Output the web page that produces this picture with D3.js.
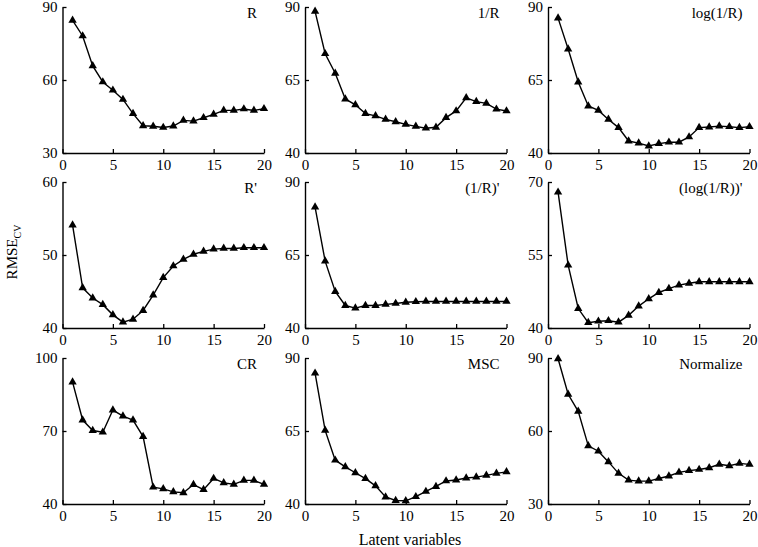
<!DOCTYPE html>
<html><head><meta charset="utf-8">
<script src="https://cdn.jsdelivr.net/npm/d3@7"></script>
<style>body{margin:0;background:#fff}text{font-family:"Liberation Serif","Times New Roman",serif;fill:#000}</style>
</head><body><svg id="c" width="758" height="547"></svg>
<script>
const latent = d3.range(1, 21);
const titles = ["R", "1/R", "log(1/R)", "R'", "(1/R)'", "(log(1/R))'", "CR", "MSC", "Normalize"];
const yDomains = [[30,90],[40,90],[40,90],[40,60],[40,90],[40,70],[40,100],[40,90],[30,90]];
const yTicks = [[30,60,90],[40,65,90],[40,65,90],[40,50,60],[40,65,90],[40,55,70],[40,70,100],[40,65,90],[30,60,90]];
const xTicks = [0,5,10,15,20];
const sR = [84.5,78.1,65.8,59.2,55.8,52.0,46.2,41.2,41.0,40.5,41.1,43.4,43.1,44.5,45.9,47.5,47.5,48.1,47.5,48.2];
const sInvR = [88.5,74.0,67.3,58.5,56.5,53.5,52.7,51.5,50.7,49.8,49.1,48.5,48.8,52.1,54.4,58.9,57.6,57.0,55.0,54.4];
const sLogInvR = [86.2,75.6,64.3,56.1,54.6,51.5,48.7,44.1,43.4,42.4,43.2,43.7,43.7,45.5,48.7,48.9,49.2,49.0,48.7,49.0];
const sRd = [54.1,45.5,44.1,43.2,41.8,40.8,41.2,42.4,44.5,46.9,48.5,49.4,50.1,50.5,50.8,50.9,50.9,51.0,51.0,51.0];
const sInvRd = [81.4,62.9,52.5,47.7,46.8,47.7,47.7,48.1,48.4,48.8,49.0,49.1,49.1,49.1,49.1,49.1,49.1,49.1,49.1,49.1];
const sLogInvRd = [67.9,52.9,44.0,41.1,41.4,41.5,41.2,42.6,44.5,46.0,47.3,48.1,48.8,49.2,49.5,49.5,49.5,49.5,49.5,49.5];
const sCR = [90.1,74.5,70.2,69.5,78.6,76.1,74.5,67.7,46.9,46.2,45.0,44.6,48.0,45.9,50.5,48.7,48.1,49.7,49.7,48.1];
const sMSC = [84.8,65.2,55.0,52.7,50.7,48.7,46.2,42.4,41.2,41.1,42.5,44.3,46.0,47.9,48.2,48.9,49.2,49.8,50.5,51.0];
const sNorm = [89.7,75.1,68.1,53.9,51.7,47.3,42.6,39.8,39.4,39.4,40.5,41.5,43.0,43.7,44.2,44.9,46.3,45.7,46.7,46.3];
const series = [sR, sInvR, sLogInvR, sRd, sInvRd, sLogInvRd, sCR, sMSC, sNorm];

const svg = d3.select("#c");
const colX = [62.5, 305, 548], colW = 201.5;
const rowY = [7, 182, 358], rowH = 146;

series.forEach((vals, i) => {
  const c = i % 3, r = Math.floor(i / 3);
  const g = svg.append("g").attr("transform", `translate(${colX[c]},${rowY[r]})`);
  const x = d3.scaleLinear().domain([0, 20]).range([0, colW]);
  const y = d3.scaleLinear().domain(yDomains[i]).range([rowH, 0]);
  const xa = g.append("g").attr("transform", `translate(0,${rowH})`)
    .call(d3.axisBottom(x).tickValues(xTicks).tickSizeInner(-4).tickSizeOuter(0).tickPadding(6));
  const ya = g.append("g")
    .call(d3.axisLeft(y).tickValues(yTicks[i]).tickSizeInner(-4).tickSizeOuter(0).tickPadding(9));
  [xa, ya].forEach(a => {
    a.attr("font-family", null);
    a.select(".domain").attr("stroke", "#000").attr("stroke-width", 1.4);
    a.selectAll(".tick line").attr("stroke", "#000").attr("stroke-width", 1.3);
    a.selectAll(".tick text").style("font-family", '"Liberation Serif",serif').style("font-size", "15px").attr("fill", "#000");
  });
  ya.selectAll(".tick text").attr("x", -5);
  g.append("path").datum(vals)
    .attr("fill", "none").attr("stroke", "#000").attr("stroke-width", 1.4)
    .attr("d", d3.line().x((d, k) => x(latent[k])).y(d => y(d)));
  g.selectAll(".m").data(vals).enter().append("path")
    .attr("transform", (d, k) => `translate(${x(latent[k])},${y(d)})`)
    .attr("d", d3.symbol().type(d3.symbolTriangle).size(30)).attr("fill", "#000");
  g.append("text").attr("x", colW - 7).attr("y", 11).attr("text-anchor", "end")
    .style("font-size", "15px").text(titles[i]);
});

svg.append("text").attr("x", 410).attr("y", 545).attr("text-anchor", "middle")
  .style("font-size", "16px").text("Latent variables");
const yl = svg.append("text").attr("transform", "translate(17,252) rotate(-90)").attr("text-anchor", "middle")
  .style("font-size", "15px");
yl.append("tspan").text("RMSE");
yl.append("tspan").attr("dy", 4).style("font-size", "10px").text("CV");
</script></body></html>
